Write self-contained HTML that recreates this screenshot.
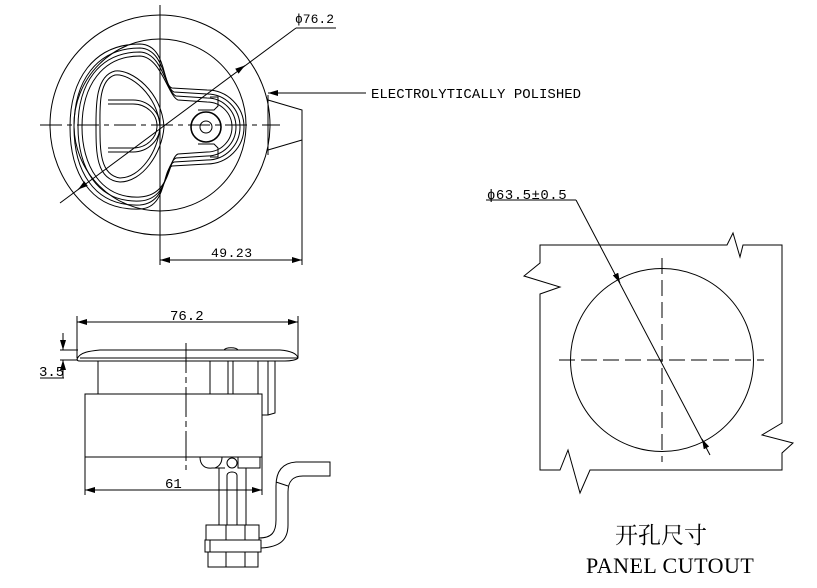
<!DOCTYPE html>
<html><head><meta charset="utf-8"><style>
html,body{margin:0;padding:0;background:#fff}
svg{display:block}
.m{font-family:"Liberation Mono",monospace;fill:#000}
.s{font-family:"Liberation Serif","Noto Serif CJK SC",serif;fill:#000}
</style></head><body>
<svg width="817" height="588" viewBox="0 0 817 588" xmlns="http://www.w3.org/2000/svg">
<defs>
<marker id="a" viewBox="0 0 10 6" refX="10" refY="3" markerWidth="10" markerHeight="6" orient="auto-start-reverse" markerUnits="userSpaceOnUse"><path d="M0,0 L10,3 L0,6 Z" fill="#000"/></marker>
</defs>
<g fill="none" stroke="#000" stroke-width="1">
<!-- TOP VIEW -->
<circle cx="160" cy="125" r="110"/>
<circle cx="160" cy="125" r="86"/>
<path d="M268,100 L302,110 L302,140 L268,150" />
<line x1="268" y1="95" x2="268" y2="155"/>
<path d="M172,88 L207,90 A37 37 0 0 1 207,164 L172,166 C162,170 167,208 140,209 C88,211 70,170 70,127 C70,80 93,44 140,44 C167,45 162,85 172,88 Z"/>
<path d="M174,92 L207,94 A33 33 0 0 1 207,160 L174,162 C164,166 168,203 140,205 C92,207 74,168 74,127 C74,82 96,48 140,48 C165,49 164,88 174,92 Z"/>
<path d="M176,96 L207,98 A29 29 0 0 1 207,156 L176,158 C166,162 170,199 140,201 C96,203 78,166 78,127 C78,84 99,52 140,52 C163,53 166,92 176,96 Z"/>
<path d="M178,100 L207,102 A25 25 0 0 1 207,152 L178,154 C168,158 172,195 140,197 C100,199 82,164 82,127 C82,86 102,56 140,56 C161,57 168,96 178,100 Z"/>
<path d="M160,127 C158,95 130,73 115,75 C98,80 100,110 100,127 C100,150 100,175 120,178 C140,178 158,152 160,127 Z"/>
<path d="M164,127 C162,92 132,69 115,71 C95,76 96,108 96,127 C96,152 96,180 120,182 C142,182 162,154 164,127 Z"/>
<path d="M108,100 L133,100 A27 26 0 0 1 133,152 L108,152"/>
<path d="M108,104 L133,104 A24 22 0 0 1 133,148 L108,148"/>
<path d="M198,110 L214,110 L218,106 L218,97 L210,97"/>
<path d="M198,144 L214,144 L218,148 L218,157 L210,157"/>
<circle cx="206" cy="127" r="15" stroke-width="1.6"/>
<circle cx="206" cy="127" r="6"/>
<line x1="40" y1="125" x2="280" y2="125" stroke-dasharray="22,5,5,5"/>
<line x1="160" y1="5" x2="160" y2="265"/>
<line x1="60" y1="203" x2="296" y2="28"/>
<line x1="296" y1="28" x2="336" y2="28"/>
<line x1="80" y1="188" x2="78" y2="189.5" marker-end="url(#a)"/>
<line x1="240" y1="69" x2="245" y2="65.5" marker-end="url(#a)"/>
<line x1="268" y1="93" x2="366" y2="93" marker-start="url(#a)"/>
<line x1="302" y1="140" x2="302" y2="265"/>
<line x1="160" y1="260" x2="302" y2="260" marker-start="url(#a)" marker-end="url(#a)"/>

<!-- SIDE VIEW -->
<path d="M77,359 C80,352 90,351 100,350 L280,350 C292,351 297,354 298,358 C297,360 290,361 285,361 L80,361 C77,361 77,360 77,359 Z"/>
<line x1="80" y1="358" x2="298" y2="358"/>
<path d="M224,350 C226,347 236,347 238,350"/>
<line x1="98" y1="361" x2="98" y2="394"/>
<line x1="210" y1="361" x2="210" y2="394"/>
<line x1="228" y1="361" x2="228" y2="394"/>
<line x1="233" y1="361" x2="233" y2="394"/>
<line x1="258" y1="361" x2="258" y2="394"/>
<path d="M268,361 L268,415 L262,415 M275,361 L275,413 L268,415"/>
<rect x="85" y="394" width="177" height="63"/>
<line x1="186" y1="343" x2="186" y2="470" stroke-dasharray="30,4,6,4"/>
<path d="M200,457 C200,465 205,469 212,468 L225,468 M222,457 C222,462 220,466 215,468"/>
<circle cx="232" cy="463" r="5"/>
<path d="M238,457 L238,468 L260,468 L260,457"/>
<path d="M219,468 L219,525 M227,475 L227,525 M237,475 L237,525 M246,468 L246,525 M227,475 C228,471 236,471 237,475"/>
<rect x="206" y="525" width="53" height="15"/>
<line x1="226" y1="525" x2="226" y2="540"/><line x1="245" y1="525" x2="245" y2="540"/>
<rect x="205" y="540" width="56" height="12"/>
<line x1="210" y1="540" x2="210" y2="552"/>
<rect x="208" y="552" width="50" height="15"/>
<line x1="226" y1="552" x2="226" y2="567"/><line x1="245" y1="552" x2="245" y2="567"/>
<path d="M259,538 C272,538 276,532 276,520 L276,486 C276,472 282,463 296,462 L330,462 L330,476 L303,476 C292,476 288,482 288,492 L288,525 C288,540 280,547 261,548"/>
<line x1="276" y1="482" x2="288" y2="486"/>
<!-- dims -->
<line x1="77" y1="316" x2="77" y2="358"/>
<line x1="298" y1="316" x2="298" y2="358"/>
<line x1="77" y1="322" x2="298" y2="322" marker-start="url(#a)" marker-end="url(#a)"/>
<line x1="60" y1="350" x2="78" y2="350"/>
<line x1="60" y1="360" x2="78" y2="360"/>
<line x1="63" y1="333" x2="63" y2="350" marker-end="url(#a)"/>
<line x1="63" y1="378" x2="63" y2="360" marker-end="url(#a)"/>
<line x1="40" y1="378" x2="64" y2="378"/>
<line x1="85" y1="457" x2="85" y2="495"/>
<line x1="262" y1="457" x2="262" y2="495"/>
<line x1="85" y1="490" x2="262" y2="490" marker-start="url(#a)" marker-end="url(#a)"/>

<!-- PANEL CUTOUT -->
<path d="M540,245 L727,245 L733,233 L740,257 L743,245 L782,245 L782,423 L762,435 L793,443 L782,453 L782,470 L590,470 L580,493 L568,450 L560,470 L540,470 L540,294 L560,287 L524,276 L540,263 Z"/>
<circle cx="662" cy="360" r="91.5"/>
<line x1="559" y1="360" x2="764" y2="360" stroke-dasharray="16,6"/>
<line x1="662" y1="258" x2="662" y2="462" stroke-dasharray="16,6"/>
<line x1="486" y1="200" x2="576" y2="200"/>
<line x1="576" y1="200" x2="710" y2="455"/>
<line x1="616" y1="275" x2="620" y2="283" marker-end="url(#a)"/>
<line x1="706" y1="447" x2="702" y2="439" marker-end="url(#a)"/>
</g>
<text x="295" y="23" class="m" style="font-size:13px">ϕ76.2</text>
<text x="371" y="98" class="m" style="font-size:14px">ELECTROLYTICALLY POLISHED</text>
<text x="211" y="257" class="m" style="font-size:13px;letter-spacing:0.5px">49.23</text>
<text x="170" y="320" class="m" style="font-size:14px">76.2</text>
<text x="39" y="376" class="m" style="font-size:14px">3.5</text>
<text x="165" y="488" class="m" style="font-size:14px">61</text>
<text x="487" y="199" class="m" style="font-size:14px;letter-spacing:0.5px">ϕ63.5±0.5</text>
<text x="615" y="543" class="s" style="font-size:23px;font-family:'Noto Serif CJK SC',serif">开孔尺寸</text>
<text x="586" y="573" class="s" style="font-size:22px;letter-spacing:0.5px">PANEL CUTOUT</text>
</svg>
</body></html>
